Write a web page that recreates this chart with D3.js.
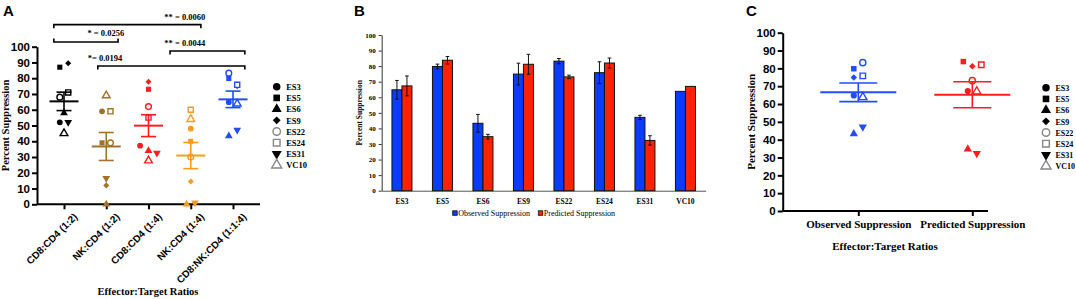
<!DOCTYPE html>
<html>
<head>
<meta charset="utf-8">
<script src="https://cdn.jsdelivr.net/npm/d3@7"></script>
<style>
  html, body { margin: 0; padding: 0; background: #fff; }
  svg { display: block; }
  .sans { font-family: "Liberation Sans", Arial, sans-serif; font-weight: bold; }
  .serif { font-family: "Liberation Serif", "Times New Roman", serif; font-weight: bold; }
</style>
</head>
<body>
<svg id="fig" width="1076" height="299"></svg>
<script>
// =========================
// DATA
// =========================
const cellLines = ["ES3", "ES5", "ES6", "ES9", "ES22", "ES24", "ES31", "VC10"];
const cellShapes = ["circle", "square", "triangle", "diamond", "ocircle", "osquare", "tridown", "otriangle"];

const groupsA = ["CD8:CD4 (1:2)", "NK:CD4 (1:2)", "CD8:CD4 (1:4)", "NK:CD4 (1:4)", "CD8:NK:CD4 (1:1:4)"];
// values per group, in cellLines order
const cd8cd4_12 = [52, 87, 58, 89.5, 68, 71, 52, 45];
const nkcd4_12 = [59, 39, 0, 12, 39, 59, 16.5, 69];
const cd8cd4_14 = [37.2, 73, 34, 77.8, 62, 55, 32.5, 27.7];
const nkcd4_14 = [48, 40, 0, 14.5, 30, 60, 1, 54];
const observed = [64.8, 79.8, 43.3, 74.9, 83.2, 75.8, 47.1, 63.8];
const predicted = [67.3, 83.8, 34.7, 81.2, 73.1, 82.0, 32.3, 67.0];
const observedErr = [6, 1.5, 5.7, 7, 1.7, 7, 1.3, 0];
const predictedErr = [6.4, 2.4, 1.5, 6.4, 1.1, 3.2, 3, 0];

// significance brackets: ends / text in category units, level in % units
const brackets = [
  { from: -0.24, to: 3.24, textAt: 2.86, level: 114, dir: 1, label: "** = 0.0060" },
  { from: -0.24, to: 1.28, textAt: 0.99, level: 103, dir: -1, label: "* = 0.0256" },
  { from: 2.51, to: 4.28, textAt: 2.86, level: 97.3, dir: 1, label: "** = 0.0044" },
  { from: 0.8, to: 4.28, textAt: 0.97, level: 87.8, dir: 1, label: "*= 0.0194" }
];

const seriesB = ["Observed Suppression", "Predicted Suppression"];
const groupsC = ["Observed Suppression", "Predicted Suppression"];
const yTicks = d3.range(0, 101, 10);

// styles
const colorsA = ["#000000", "#a3722a", "#ff1c1c", "#ff9b1c", "#1f4dff"];
const barColors = ["#0a3cff", "#ff2200"];
const colorsC = ["#1f4dff", "#ff1c1c"];

const svg = d3.select("#fig");

// =========================
// HELPERS
// =========================
function symbolPath(shape, size) {
  const base = shape.replace(/^o/, "");
  let type = d3.symbolCircle;
  if (base === "square" || base === "diamond") type = d3.symbolSquare;
  if (base === "triangle" || base === "tridown") type = d3.symbolTriangle;
  return d3.symbol().type(type).size(base === "diamond" ? size * 0.7 : size)();
}

function drawSymbol(g, shape, cx, cy, size, color, openStroke) {
  const open = shape.startsWith("o");
  let rot = "";
  if (shape === "tridown") rot = " rotate(180)";
  if (shape === "diamond") rot = " rotate(45)";
  g.append("path")
    .attr("d", symbolPath(shape, size))
    .attr("transform", `translate(${cx},${cy})${rot}`)
    .attr("fill", open ? "#fff" : color)
    .attr("stroke", open ? (openStroke || color) : "none")
    .attr("stroke-width", 1.4);
}

// spread points whose y positions are close
function dodge(values, y, threshold, step) {
  const idx = d3.range(values.length).sort((a, b) => values[b] - values[a]);
  const off = values.map(() => 0);
  let cluster = [idx[0]];
  const flush = () => {
    const n = cluster.length;
    const ordered = cluster.slice().sort((a, b) => a - b);
    if (n === 3) {
      ordered.forEach((k, j) => off[k] = (j - 1) * 2 * step);
    } else if (n > 1) {
      ordered.forEach((k, j) => off[k] = (j % 2 === 0 ? -1 : 1) * step);
    }
  };
  for (let i = 1; i < idx.length; i++) {
    if (Math.abs(y(values[idx[i]]) - y(values[idx[i - 1]])) < threshold) cluster.push(idx[i]);
    else { flush(); cluster = [idx[i]]; }
  }
  flush();
  return off;
}

function meanSem(values) {
  const m = d3.mean(values);
  const sem = d3.deviation(values) / Math.sqrt(values.length);
  return { m, sem };
}

function drawScatterGroup(g, values, cx, y, color, opt) {
  const off = dodge(values, y, 7, opt.step);
  values.forEach((v, i) => {
    drawSymbol(g, cellShapes[i], cx + off[i], y(v), opt.size, color);
  });
  const { m, sem } = meanSem(values);
  g.append("line")
    .attr("x1", cx - opt.meanHalf).attr("x2", cx + opt.meanHalf)
    .attr("y1", y(m)).attr("y2", y(m))
    .attr("stroke", color).attr("stroke-width", 2);
  g.append("line")
    .attr("x1", cx).attr("x2", cx)
    .attr("y1", y(m - sem)).attr("y2", y(m + sem))
    .attr("stroke", color).attr("stroke-width", 1.6);
  [m - sem, m + sem].forEach(v => {
    g.append("line")
      .attr("x1", cx - opt.semHalf).attr("x2", cx + opt.semHalf)
      .attr("y1", y(v)).attr("y2", y(v))
      .attr("stroke", color).attr("stroke-width", 1.6);
  });
}

function drawLegend(g, x, y0, step, fs) {
  cellLines.forEach((name, i) => {
    const yy = y0 + i * step;
    drawSymbol(g, cellShapes[i], x, yy, 44, "#000", "#888");
    g.append("text")
      .attr("class", "serif")
      .attr("x", x + 9.5).attr("y", yy + 3.2)
      .style("font-size", fs + "px")
      .text(name);
  });
}

function styleAxis(sel, w) {
  sel.select(".domain").attr("stroke", "#000").attr("stroke-width", w);
  sel.selectAll(".tick line").attr("stroke", "#000").attr("stroke-width", w);
}

// =========================
// PANEL A
// =========================
const gA = svg.append("g");
const yA = d3.scaleLinear().domain([0, 100]).range([204.3, 46.7]);
const xA = d3.scalePoint().domain(groupsA).range([64, 233]);
const xAu = d3.scaleLinear().domain([0, 4]).range([64, 233]);

gA.append("text").attr("class", "sans").attr("x", 3).attr("y", 16)
  .style("font-size", "15px").text("A");

const axYA = gA.append("g")
  .attr("transform", "translate(37,0)")
  .call(d3.axisLeft(yA).tickValues(yTicks).tickSize(5).tickSizeOuter(0).tickPadding(2));
axYA.selectAll("text").attr("class", "sans").style("font-size", "11.5px").attr("fill", "#000");
styleAxis(axYA, 2);

const axXA = gA.append("g")
  .attr("transform", `translate(0,${yA(0)})`)
  .call(d3.axisBottom(xA).tickSize(5).tickSizeOuter(0));
axXA.select(".domain").attr("d", `M37,0H260`);
axXA.selectAll("text")
  .attr("class", "sans")
  .style("font-size", "10px")
  .attr("fill", "#000")
  .attr("text-anchor", "end")
  .attr("dx", "0.1em").attr("dy", "0.6em")
  .attr("transform", "translate(3,4) rotate(-45)");
styleAxis(axXA, 2);

gA.append("text").attr("class", "serif")
  .attr("transform", `translate(9,${(yA(0) + yA(100)) / 2}) rotate(-90)`)
  .attr("text-anchor", "middle").style("font-size", "10.5px")
  .text("Percent Suppression");

gA.append("text").attr("class", "serif")
  .attr("x", 148).attr("y", 295).attr("text-anchor", "middle")
  .style("font-size", "10.5px").text("Effector:Target Ratios");

[cd8cd4_12, nkcd4_12, cd8cd4_14, nkcd4_14, observed].forEach((vals, gi) => {
  drawScatterGroup(gA, vals, xA(groupsA[gi]), yA, colorsA[gi],
    { step: 4.2, size: 26, meanHalf: 14.5, semHalf: 7.5 });
});

brackets.forEach(b => {
  const yy = yA(b.level);
  gA.append("path")
    .attr("d", `M${xAu(b.from)},${yy + 3.5 * b.dir}V${yy}H${xAu(b.to)}V${yy + 3.5 * b.dir}`)
    .attr("fill", "none").attr("stroke", "#000").attr("stroke-width", 1.6);
  gA.append("text").attr("class", "serif")
    .attr("x", xAu(b.textAt)).attr("y", yy - (b.dir > 0 ? 5 : 6))
    .attr("text-anchor", "middle").style("font-size", "8.5px")
    .text(b.label);
});

drawLegend(gA, 276.7, 86.7, 11.2, 8.5);

// =========================
// PANEL B
// =========================
const gB = svg.append("g");
const yB = d3.scaleLinear().domain([0, 100]).range([190.7, 35]);
const xB = d3.scaleBand().domain(cellLines).range([381.7, 705.7]).padding(0);
const xSub = d3.scaleBand().domain(seriesB).range([-10, 10]);

gB.append("text").attr("class", "sans").attr("x", 354).attr("y", 16)
  .style("font-size", "15px").text("B");

const axYB = gB.append("g")
  .attr("transform", "translate(381.7,0)")
  .call(d3.axisLeft(yB).tickValues(yTicks).tickSize(3).tickSizeOuter(0).tickPadding(3));
axYB.selectAll("text").attr("class", "serif").style("font-size", "7px").attr("fill", "#000");
axYB.select(".domain").attr("stroke", "#333").attr("stroke-width", 1);
axYB.selectAll(".tick line").attr("stroke", "#333");

const axXB = gB.append("g")
  .attr("transform", `translate(0,${yB(0)})`)
  .call(d3.axisBottom(xB).tickSize(0).tickSizeOuter(0).tickPadding(8));
axXB.selectAll("text").attr("class", "serif").style("font-size", "7.5px").attr("fill", "#000");
axXB.select(".domain").attr("stroke", "#555").attr("stroke-width", 1);

gB.append("text").attr("class", "serif")
  .attr("transform", `translate(362,${(yB(0) + yB(100)) / 2}) rotate(-90)`)
  .attr("text-anchor", "middle").style("font-size", "7.5px")
  .text("Percent Suppression");

const barRows = cellLines.map((c, i) => ({
  c, vals: [
    { s: seriesB[0], v: observed[i], e: observedErr[i] },
    { s: seriesB[1], v: predicted[i], e: predictedErr[i] }
  ]
}));

const cellG = gB.selectAll(".cell").data(barRows).enter().append("g")
  .attr("transform", d => `translate(${xB(d.c) + xB.bandwidth() / 2},0)`);

cellG.selectAll("rect").data(d => d.vals).enter().append("rect")
  .attr("x", d => xSub(d.s))
  .attr("y", d => yB(d.v))
  .attr("width", xSub.bandwidth())
  .attr("height", d => yB(0) - yB(d.v))
  .attr("fill", (d, i) => barColors[i])
  .attr("stroke", "#111").attr("stroke-width", 1);

cellG.selectAll(".err").data(d => d.vals.filter(v => v.e > 0)).enter().append("path")
  .attr("d", d => {
    const cx = xSub(d.s) + xSub.bandwidth() / 2;
    const t = yB(d.v + d.e), b = yB(d.v - d.e);
    return `M${cx},${t}V${b}M${cx - 1.8},${t}H${cx + 1.8}M${cx - 1.8},${b}H${cx + 1.8}`;
  })
  .attr("fill", "none").attr("stroke", "#111").attr("stroke-width", 1);

const legB = gB.append("g").attr("transform", "translate(452.7,213.3)");
seriesB.forEach((s, i) => {
  const lx = i * 85.6;
  legB.append("rect").attr("x", lx).attr("y", -2.5).attr("width", 4.5).attr("height", 4.5)
    .attr("fill", barColors[i]).attr("stroke", "#111").attr("stroke-width", 0.8);
  legB.append("text").attr("x", lx + 5.5).attr("y", 3)
    .style("font-family", "'Liberation Serif', 'Times New Roman', serif")
    .style("font-size", "8px").text(s);
});

// =========================
// PANEL C
// =========================
const gC = svg.append("g");
const yC = d3.scaleLinear().domain([0, 100]).range([211, 32.7]);
const xC = d3.scalePoint().domain(groupsC).range([858.3, 972.3]);

gC.append("text").attr("class", "sans").attr("x", 746).attr("y", 16)
  .style("font-size", "15px").text("C");

const axYC = gC.append("g")
  .attr("transform", "translate(782.7,0)")
  .call(d3.axisLeft(yC).tickValues(yTicks).tickSize(5).tickSizeOuter(0).tickPadding(2));
axYC.selectAll("text").attr("class", "sans").style("font-size", "11.5px").attr("fill", "#000");
styleAxis(axYC, 2);

const axXC = gC.append("g")
  .attr("transform", `translate(0,${yC(0)})`)
  .call(d3.axisBottom(xC).tickSize(5).tickSizeOuter(0).tickPadding(4));
axXC.select(".domain").attr("d", "M782.7,0H988");
axXC.selectAll("text").attr("class", "serif").style("font-size", "11px").attr("fill", "#000");
styleAxis(axXC, 2);

gC.append("text").attr("class", "serif")
  .attr("transform", `translate(755,${(yC(0) + yC(100)) / 2}) rotate(-90)`)
  .attr("text-anchor", "middle").style("font-size", "11px")
  .text("Percent Suppression");

gC.append("text").attr("class", "serif")
  .attr("x", 885).attr("y", 250).attr("text-anchor", "middle")
  .style("font-size", "11px").text("Effector:Target Ratios");

[observed, predicted].forEach((vals, gi) => {
  drawScatterGroup(gC, vals, xC(groupsC[gi]), yC, colorsC[gi],
    { step: 4.5, size: 30, meanHalf: 38, semHalf: 19 });
});

drawLegend(gC, 1046, 87.7, 11.2, 8);
</script>
</body>
</html>
